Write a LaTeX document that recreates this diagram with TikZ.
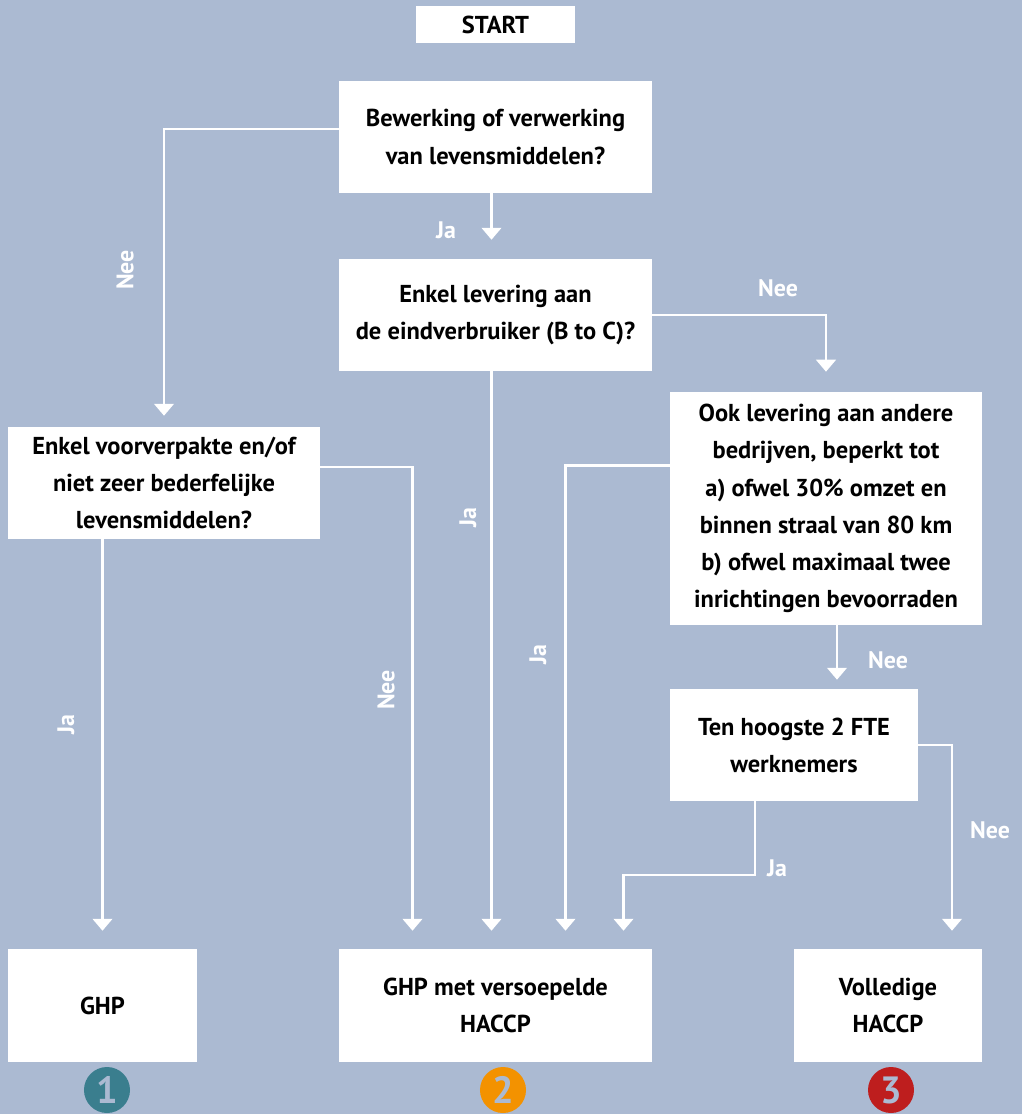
\documentclass[tikz,border=0pt]{standalone}
\usepackage{fontspec}
\setmainfont{PT Sans}
\usetikzlibrary{arrows.meta,calc}
\definecolor{bgc}{HTML}{ABBAD2}
\definecolor{Oc}{HTML}{3A7E8E}
\definecolor{Tc}{HTML}{F39200}
\definecolor{Dc}{HTML}{BE1E1E}
\tikzset{
  box/.style={fill=white, inner sep=0pt, align=center, minimum width=7.825cm, minimum height=2.8cm,
    font=\bfseries\fontsize{17.4}{26.4}\selectfont},
  flow/.style={draw=white, line width=1.6pt, -{Triangle[width=14pt, length=8.5pt]}},
  lbl/.style={text=white, inner sep=0pt, font=\bfseries\fontsize{17}{20}\selectfont},
  num/.style={circle, inner sep=0pt, minimum size=1.15cm, text=bgc,
    font=\bfseries\fontsize{27}{27}\selectfont},
}
\begin{document}
\begin{tikzpicture}[x=0.025cm, y=-0.025cm]
  \fill[bgc] (0,0) rectangle (1022,1114);
  \useasboundingbox (0,0) rectangle (1022,1114);
  \node[box, minimum width=3.975cm, minimum height=0.925cm] (start) at (495.5,24.5) {START};
  \node[box] (q1) at (495.5,137) {Bewerking of verwerking\\van levensmiddelen?};
  \node[box] (q2) at (495.5,315) {Enkel levering aan\\de eindverbruiker (B to C)?};
  \node[box, minimum width=7.8cm] (q3) at (164,483) {Enkel voorverpakte en/of\\niet zeer bederfelijke\\levensmiddelen?};
  \node[box, minimum width=7.8cm, minimum height=5.825cm] (q4) at (826,508.5)
    {Ook levering aan andere\\bedrijven, beperkt tot\\a) ofwel 30\% omzet en\\binnen straal van 80 km\\b) ofwel maximaal twee\\inrichtingen bevoorraden};
  \node[box, minimum width=6.2cm] (q5) at (794,745) {Ten hoogste 2 FTE\\werknemers};
  \node[box, minimum width=4.725cm, minimum height=2.825cm] (r1) at (102.5,1005.5) {GHP};
  \node[box, minimum height=2.825cm] (r2) at (495.5,1005.5) {GHP met versoepelde\\HACCP};
  \node[box, minimum width=4.7cm, minimum height=2.825cm] (r3) at (888,1005.5) {Volledige\\HACCP};
  \node[num, fill=Oc] (n1) at (107,1090) {1};
  \node[num, fill=Tc] (n2) at (503,1090) {2};
  \node[num, fill=Dc] (n3) at (891,1090) {3};

  \draw[flow, shorten >=0.475cm] ($(q1.south)+(-4,0)$) -- ($(q2.north)+(-4,0)$);
  \draw[flow, shorten >=0.275cm] ($(q1.west)+(0,-8)$) -| (q3.north);
  \draw[flow, shorten >=0.5cm] (q2.east) -| (q4.north);
  \draw[flow, shorten >=0.45cm] ($(q2.south)+(-4,0)$) -- ($(r2.north)+(-4,0)$);
  \draw[flow, shorten >=0.45cm] (q3.south -| r1.north) -- (r1.north);
  \draw[flow, shorten >=0.45cm] ($(q3.east)+(0,-16)$) -| ($(r2.north)+(-83,0)$);
  \draw[flow, shorten >=0.45cm] ($(q4.west)+(0,-43)$) -| ($(r2.north)+(70,0)$);
  \coordinate (q4nee) at ($(q4.south)+(11,0)$);
  \draw[flow, shorten >=0.225cm] (q4nee) -- (q4nee |- q5.north);
  \coordinate (q5ja) at ($(q5.south)+(-39,0)$);
  \draw[flow, shorten >=0.45cm] (q5ja) -- ++(0,74) -| ($(r2.north)+(128,0)$);
  \draw[flow, shorten >=0.45cm] (q5.east) -| ($(r3.north)+(64,0)$);

  \node[lbl] (l1) at (446,230) {Ja};
  \node[lbl, rotate=90] (l2) at (125,270) {Nee};
  \node[lbl] (l3) at (778,288) {Nee};
  \node[lbl, rotate=90] (l4) at (468,518) {Ja};
  \node[lbl, rotate=90] (l5) at (66,725) {Ja};
  \node[lbl, rotate=90] (l6) at (386,690) {Nee};
  \node[lbl, rotate=90] (l7) at (538,655) {Ja};
  \node[lbl] (l8) at (888,660) {Nee};
  \node[lbl] (l9) at (777,868) {Ja};
  \node[lbl] (l10) at (990,830) {Nee};
\end{tikzpicture}
\end{document}
